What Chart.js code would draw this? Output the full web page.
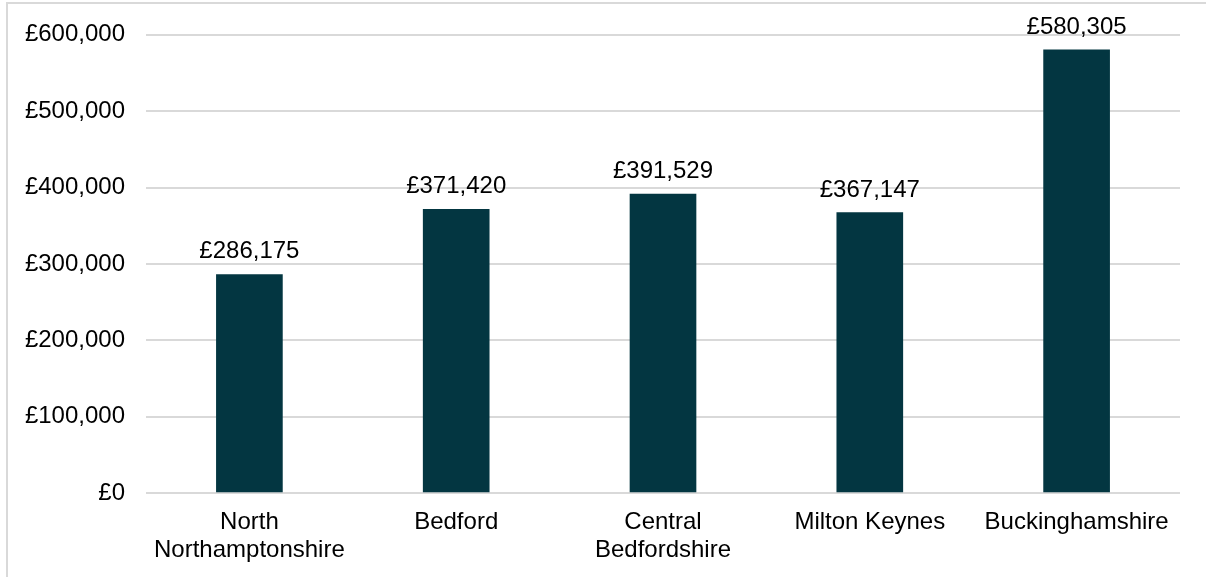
<!DOCTYPE html>
<html>
<head>
<meta charset="utf-8">
<script src="https://cdn.jsdelivr.net/npm/chart.js@4"></script>
<style>
  html, body { margin: 0; padding: 0; background: #fff; overflow: hidden; }
  #wrap { position: relative; width: 1206px; height: 577px; }
  #frame { position: absolute; left: 6px; top: 2px; width: 1400px; height: 800px;
           border: 2px solid #d9d9d9; box-sizing: border-box; }
  canvas { position: absolute; left: 0; top: 0; }
</style>
</head>
<body>
<div id="wrap">
  <div id="frame"></div>
  <canvas id="c" width="1206" height="577"></canvas>
</div>
<script>
// Average house price by local authority
const areas = [["North", "Northamptonshire"], "Bedford", ["Central", "Bedfordshire"], "Milton Keynes", "Buckinghamshire"];
const prices = [286175, 371420, 391529, 367147, 580305];
const yTicks = [0, 100000, 200000, 300000, 400000, 500000, 600000];

const FONT = { family: '"Liberation Sans", Arial, sans-serif', size: 24, lineHeight: 1.15 };
const BAR = '#033641';

const gbp = v => '£' + Math.round(v).toLocaleString('en-GB');

// Value labels drawn above each bar
const valueLabels = {
  id: 'valueLabels',
  afterDatasetsDraw(chart) {
    const { ctx } = chart;
    const meta = chart.getDatasetMeta(0);
    ctx.save();
    ctx.font = `${FONT.size}px ${FONT.family}`;
    ctx.fillStyle = '#000';
    ctx.textAlign = 'center';
    ctx.textBaseline = 'alphabetic';
    meta.data.forEach((bar, i) => {
      ctx.fillText(gbp(chart.data.datasets[0].data[i]), bar.x, bar.y - 16);
    });
    ctx.restore();
  }
};

new Chart(document.getElementById('c'), {
  type: 'bar',
  data: {
    labels: areas,
    datasets: [{
      data: prices,
      backgroundColor: BAR,
      borderWidth: 0,
      barThickness: 66
    }]
  },
  options: {
    responsive: false,
    animation: false,
    events: [],
    layout: { padding: { left: 0, right: 26, top: 34, bottom: 0 } },
    plugins: { legend: { display: false }, tooltip: { enabled: false } },
    scales: {
      x: {
        grid: { display: false, drawTicks: false },
        border: { display: false },
        ticks: { color: '#000', font: FONT, padding: 16, maxRotation: 0, autoSkip: false },
        afterFit(s) { s.height = 84; }
      },
      y: {
        min: 0,
        max: 600000,
        afterBuildTicks(s) { s.ticks = yTicks.map(v => ({ value: v })); },
        grid: { color: '#d9d9d9', lineWidth: 2, drawTicks: false },
        border: { display: false },
        ticks: { color: '#000', font: FONT, padding: 21, callback: v => gbp(v) },
        afterFit(s) { s.width = 146; }
      }
    }
  },
  plugins: [valueLabels]
});
</script>
</body>
</html>
